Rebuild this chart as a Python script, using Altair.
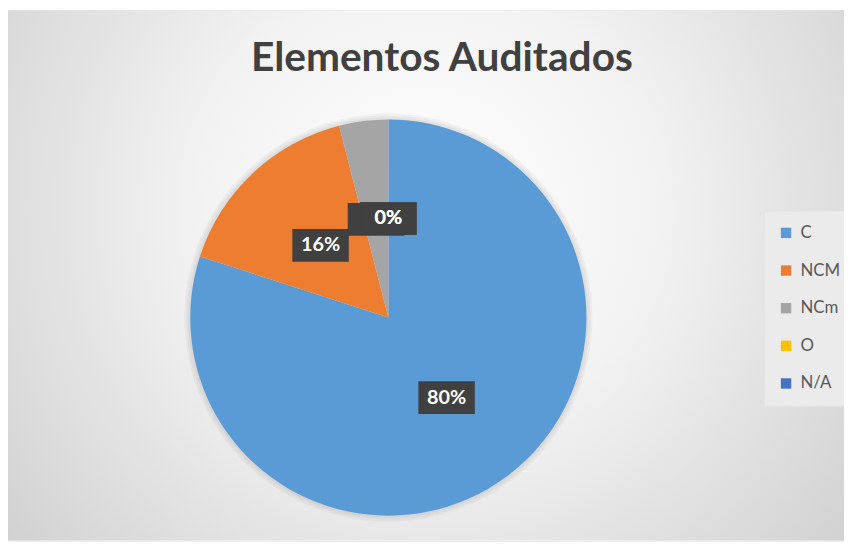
import altair as alt
import pandas as pd

categories = ["C", "NCM", "NCm", "O", "N/A"]
counts = [20, 4, 1, 0, 0]
colors = ["#5B9BD5", "#ED7D31", "#A5A5A5", "#FFC000", "#4472C4"]
label_group = [0, 0, 0, 1, 1]
title_text = "Elementos Auditados"

W, H = 844, 535
CX, CY, R = 384, 310, 200
LR = 100

df = pd.DataFrame({
    "cat": categories,
    "value": counts,
    "order": list(range(len(categories))),
    "grp": label_group,
})
deco = pd.DataFrame({"t": [title_text]})

base = alt.Chart(df)

bg = alt.Chart(deco).mark_rect(
    fill=alt.Gradient(
        gradient="radial",
        x1=0.5, y1=0.42, r1=0.0,
        x2=0.5, y2=0.42, r2=0.7,
        stops=[
            alt.GradientStop(color="#ffffff", offset=0),
            alt.GradientStop(color="#f2f2f2", offset=0.4),
            alt.GradientStop(color="#cccccc", offset=1),
        ],
    )
).encode(x=alt.value(0), x2=alt.value(W), y=alt.value(0), y2=alt.value(H))

title = alt.Chart(deco).mark_text(
    font="Lato", fontWeight="bold", fontSize=41, color="#404040",
    align="center", baseline="middle"
).encode(text="t:N", x=alt.value(438), y=alt.value(49))

shadows = [
    alt.Chart(deco).mark_arc(radius=R + k, color="#808080", opacity=0.07).encode(
        theta=alt.value(0), theta2=alt.value(6.2832), x=alt.value(CX), y=alt.value(CY)
    )
    for k in (2, 4, 6)
]

pie = base.mark_arc(radius=R).encode(
    theta=alt.Theta("value:Q", stack=True),
    order=alt.Order("order:Q"),
    color=alt.Color(
        "cat:N",
        scale=alt.Scale(domain=categories, range=colors),
        legend=alt.Legend(
            orient="none", legendX=763, legendY=202, title=None,
            symbolType="square", symbolSize=110, symbolStrokeWidth=0,
            labelFont="Lato", labelFontSize=17, labelColor="#595959",
            rowPadding=20, padding=14, fillColor="#ebebeb", strokeColor="#e3e3e3",
            labelLimit=200, labelOffset=6,
        ),
    ),
    x=alt.value(CX), y=alt.value(CY),
)

lab_base = base.transform_joinaggregate(
    total="sum(value)"
).transform_window(
    cum="sum(value)", sort=[alt.SortField("order")], frame=[None, 0]
).transform_calculate(
    pct="datum.value / datum.total",
    ang="2 * PI * (datum.cum - datum.value / 2) / datum.total",
).transform_calculate(
    lx=f"{CX} + {LR} * sin(datum.ang)",
    ly=f"{CY} - {LR} * cos(datum.ang)",
)

def label_layer(g):
    d = lab_base.transform_filter(f"datum.grp == {g}")
    box = d.mark_point(
        shape="M-1,-0.58L1,-0.58L1,0.58L-1,0.58Z", size=3249, filled=True,
        color="#404040", opacity=1, strokeWidth=0,
    ).encode(x=alt.X("lx:Q", scale=None), y=alt.Y("ly:Q", scale=None))
    txt = d.mark_text(
        font="Lato", fontWeight="bold", fontSize=20, color="white",
        align="center", baseline="middle",
    ).encode(
        x=alt.X("lx:Q", scale=None), y=alt.Y("ly:Q", scale=None),
        text=alt.Text("pct:Q", format=".0%"),
    )
    return [box, txt]

chart = alt.layer(
    bg, title, *shadows, pie, *label_layer(0), *label_layer(1)
).properties(
    width=W, height=H, autosize=alt.AutoSizeParams(type="none"), padding=0
).configure_view(stroke="#bfbfbf", strokeWidth=1).configure(background="white")

chart.save("out.html", embed_options={"renderer": "svg", "actions": False})
